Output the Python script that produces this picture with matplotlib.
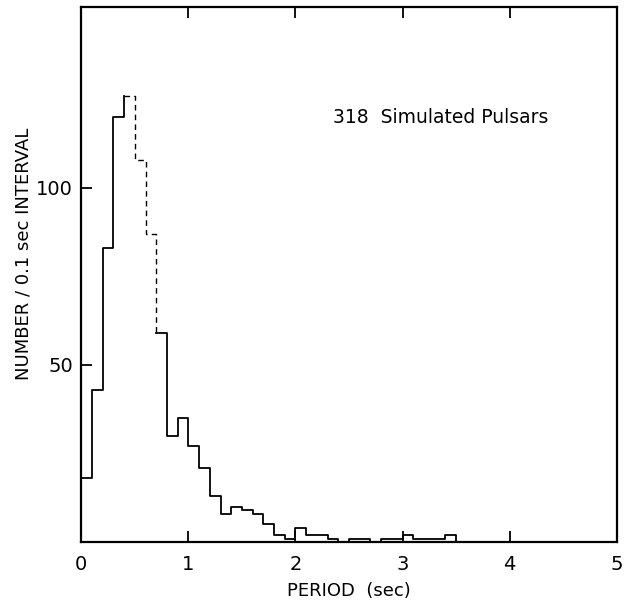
import matplotlib
matplotlib.use("Agg")
import matplotlib.pyplot as plt
import numpy as np

# histogram of simulated pulsar periods, bins of 0.1 sec
bin_width = 0.1
counts = [18, 43, 83, 120, 126, 108, 87, 59, 30, 35,
          27, 21, 13, 8, 10, 9, 8, 5, 2, 1,
          4, 2, 2, 1, 0, 1, 1, 0, 1, 1,
          2, 1, 1, 1, 2]
faint_bins = (4, 7)   # bins printed faintly (dashed) in the original
x_ticks = [0, 1, 2, 3, 4, 5]
y_ticks = [50, 100]
y_tick_labels = ["50", "100"]
note = "318  Simulated Pulsars"

counts = np.array(counts, dtype=float)
edges = np.arange(len(counts) + 1) * bin_width

# step outline points
xs = np.repeat(edges, 2)
ys = np.concatenate([[0], np.repeat(counts, 2), [0]])

a, b = faint_bins
i0 = 2 * a + 1     # point (edge a, count a-1)
i1 = 2 * b + 1     # point (edge b, count b)

plt.rcParams['font.family'] = ['DejaVu Sans']
fig = plt.figure(figsize=(6.3, 6.05), dpi=100)
ax = fig.add_axes([0.129, 0.104, 0.850, 0.884])

ax.plot(xs[:i0 + 1], ys[:i0 + 1], color='black', lw=1.3)
ax.plot(xs[i0:i1 + 1], ys[i0:i1 + 1], color='black', lw=1.0, ls=(0, (4, 3)))
ax.plot(xs[i1:], ys[i1:], color='black', lw=1.3)

ax.set_xlim(0, 5)
ax.set_ylim(0, 151)
ax.set_xticks(x_ticks)
ax.set_xticklabels([str(t) for t in x_ticks])
ax.set_yticks(y_ticks)
ax.set_yticklabels(y_tick_labels)

ax.tick_params(axis='x', direction='in', top=True, length=8, width=1.3,
               labelsize=14, pad=9)
ax.tick_params(axis='y', direction='in', length=8, width=1.3,
               labelsize=14, pad=6)
for s in ax.spines.values():
    s.set_linewidth(1.6)

ax.set_xlabel("PERIOD  (sec)", fontsize=13, labelpad=6)
fig.text(0.037, 0.58, "NUMBER / 0.1 sec INTERVAL", rotation=90,
         fontsize=13, ha='center', va='center')
ax.text(2.35, 120, note, fontsize=13.5, ha='left', va='center')

fig.savefig("out.png", dpi=100)
